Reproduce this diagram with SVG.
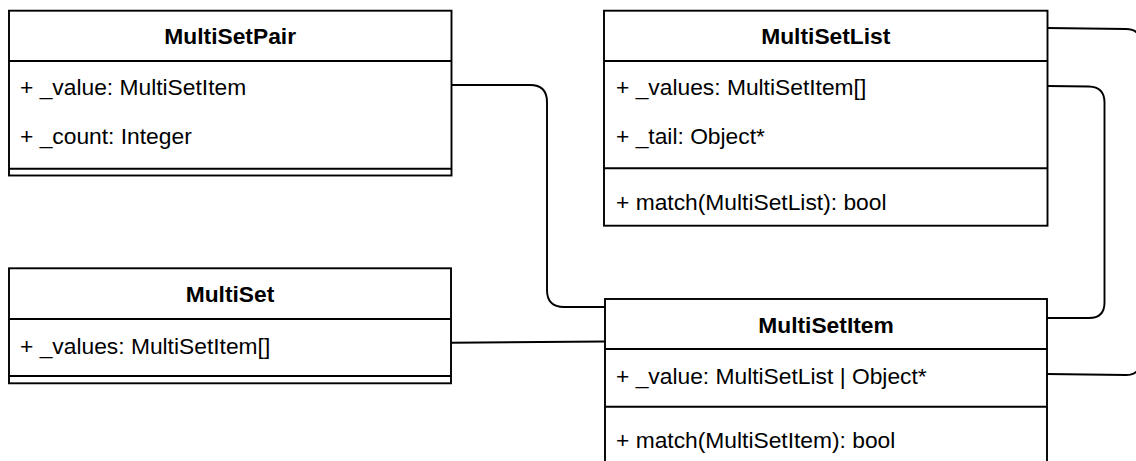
<svg xmlns="http://www.w3.org/2000/svg" width="1136" height="461" viewBox="0 0 1136 461">
<style>
.box{fill:#ffffff;stroke:#000000;stroke-width:1.9}
.ln{stroke:#000000;stroke-width:1.9;fill:none}
.t{font-family:"Liberation Sans",Arial,Helvetica,sans-serif;font-size:22.8px;fill:#000000}
.h{font-weight:bold;text-anchor:middle}
.conn{stroke:#000000;stroke-width:1.9;fill:none}
</style>
<rect width="1136" height="461" fill="#ffffff"/>
<g id="connectors">
<path class="conn" d="M451.5,85 L530,85 Q547,85 547,102 L547,290 Q547,307 564,307 L605,307"/>
<path class="conn" d="M451,342.7 L605,341.5"/>
<path class="conn" d="M1047.5,86 L1089,86.5 Q1104.5,87 1104.5,102.5 L1104.5,302.5 Q1104.5,318 1089,318 L1047,318"/>
<path class="conn" d="M1047.5,28 L1126,29 Q1140.5,29 1140.5,43.5 L1140.5,360 Q1140.5,375 1126,375 L1047,374"/>
</g>
<g id="MultiSetPair">
<rect class="box" x="9" y="10.7" width="442.5" height="164.8"/>
<line class="ln" x1="9" y1="61" x2="451.5" y2="61"/>
<line class="ln" x1="9" y1="168.8" x2="451.5" y2="168.8"/>
<text class="t h" x="230.2" y="44.3">MultiSetPair</text>
<text class="t" x="20" y="95">+ _value: MultiSetItem</text>
<text class="t" x="20" y="143.5">+ _count: Integer</text>
</g>
<g id="MultiSet">
<rect class="box" x="9" y="268.3" width="442" height="115"/>
<line class="ln" x1="9" y1="319" x2="451" y2="319"/>
<line class="ln" x1="9" y1="376" x2="451" y2="376"/>
<text class="t h" x="230" y="302">MultiSet</text>
<text class="t" x="20" y="354">+ _values: MultiSetItem[]</text>
</g>
<g id="MultiSetList">
<rect class="box" x="604" y="10.7" width="443.5" height="215"/>
<line class="ln" x1="604" y1="61" x2="1047.5" y2="61"/>
<line class="ln" x1="604" y1="168.3" x2="1047.5" y2="168.3"/>
<text class="t h" x="825.8" y="44.3">MultiSetList</text>
<text class="t" x="616" y="95">+ _values: MultiSetItem[]</text>
<text class="t" x="616" y="144">+ _tail: Object*</text>
<text class="t" x="616" y="209.5">+ match(MultiSetList): bool</text>
</g>
<g id="MultiSetItem">
<rect class="box" x="605" y="299" width="442" height="170"/>
<line class="ln" x1="605" y1="349" x2="1047" y2="349"/>
<line class="ln" x1="605" y1="406.7" x2="1047" y2="406.7"/>
<text class="t h" x="826" y="333">MultiSetItem</text>
<text class="t" x="616" y="383.5">+ _value: MultiSetList | Object*</text>
<text class="t" x="616" y="448">+ match(MultiSetItem): bool</text>
</g>
</svg>
